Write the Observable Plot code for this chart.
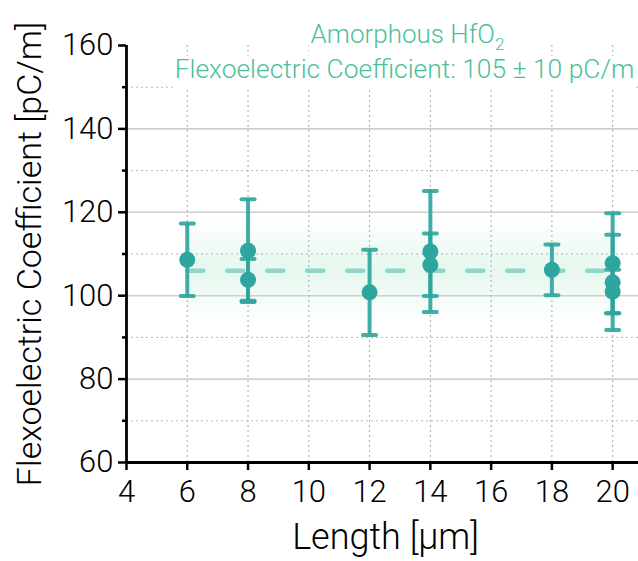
<!DOCTYPE html>
<html>
<head>
<meta charset="utf-8">
<script src="https://cdn.jsdelivr.net/npm/d3@7"></script>
<script src="https://cdn.jsdelivr.net/npm/@observablehq/plot@0.6"></script>
<style>
  html, body { margin: 0; padding: 0; background: #fff; }
  #chart { width: 638px; height: 561px; }
  #chart svg { overflow: visible; }
</style>
</head>
<body>
<div id="chart"></div>
<script>
// ---- data ----
const lengths = [6, 8, 8, 12, 14, 14, 18, 20, 20, 20];
const coeffs  = [108.6, 110.8, 103.8, 100.8, 110.6, 107.4, 106.2, 107.8, 103.2, 101.0];
const errors  = [8.7, 12.3, 5.0, 10.2, 14.5, 7.5, 6.1, 12.0, 11.4, 5.2];

const meanValue = 106;
const meanRangeX = [6, 20];
const bandLow = 94, bandHigh = 118;

const xTicks = [4, 6, 8, 10, 12, 14, 16, 18, 20];
const yMajor = [60, 80, 100, 120, 140, 160];
const yMinor = [70, 90, 110, 130, 150];

const titleLine1 = "Amorphous HfO2";
const titleLine2 = "Flexoelectric Coefficient: 105 \u00b1 10 pC/m";
const xLabel = "Length [\u03bcm]";
const yLabel = "Flexoelectric Coefficient [pC/m]";

// ---- build ----
const points = lengths.map((x, i) => ({x, y: coeffs[i], lo: coeffs[i] - errors[i], hi: coeffs[i] + errors[i]}));
const meanLine = meanRangeX.map(x => ({x, y: meanValue}));
const band = [{x1: meanRangeX[0], x2: meanRangeX[1], y1: bandLow, y2: bandHigh}];

const teal = "#2ea59f";
const green = "#4cbf98";
const font = "Roboto, 'Liberation Sans', sans-serif";

const capSymbol = {
  draw(ctx) { ctx.moveTo(-6.5, 0); ctx.lineTo(6.5, 0); }
};

const chart = Plot.plot({
  width: 638,
  height: 561,
  marginLeft: 126,
  marginRight: 0,
  marginTop: 45,
  marginBottom: 99,
  x: {domain: [4, 20.85]},
  y: {domain: [60, 160]},
  style: {fontFamily: font, background: "#fff", color: "#000", overflow: "visible"},
  marks: [
    Plot.rect(band, {x1: "x1", x2: "x2", y1: "y1", y2: "y2", fill: "url(#bandGrad)"}),
    Plot.gridY(yMinor, {stroke: "#b5b5b5", strokeOpacity: 1, strokeWidth: 1, strokeDasharray: "2,3"}),
    Plot.gridY(yMajor.filter(v => v !== 60 && v !== 160), {stroke: "#cfcfcf", strokeOpacity: 1, strokeWidth: 1.6}),
    Plot.gridX(xTicks.filter(v => v !== 4), {stroke: "#a8a8a8", strokeOpacity: 1, strokeWidth: 1, strokeDasharray: "2,3"}),
    Plot.line(meanLine, {x: "x", y: "y", stroke: "#7fcfc4", strokeOpacity: 0.85, strokeWidth: 4.5, strokeDasharray: "16,24", strokeLinecap: "round"}),
    Plot.ruleX(points, {x: "x", y1: "lo", y2: "hi", stroke: teal, strokeOpacity: 0.9, strokeWidth: 4}),
    Plot.dot(points, {x: "x", y: "hi", symbol: capSymbol, r: 6, stroke: teal, strokeOpacity: 0.9, strokeWidth: 4, strokeLinecap: "round"}),
    Plot.dot(points, {x: "x", y: "lo", symbol: capSymbol, r: 6, stroke: teal, strokeOpacity: 0.9, strokeWidth: 4, strokeLinecap: "round"}),
    Plot.dot(points, {x: "x", y: "y", r: 8, fill: teal, stroke: "none"}),
    // axes
    Plot.axisY(yMinor, {tickSize: 4, tickFormat: () => "", stroke: "#000", strokeWidth: 2.5}),
    Plot.axisY(yMajor, {tickSize: 8, tickPadding: 5, fontSize: 31, fontWeight: 300, stroke: "#000", strokeWidth: 2.5, label: null}),
    Plot.axisX(xTicks, {tickSize: 8, tickPadding: 9, fontSize: 31, fontWeight: 300, stroke: "#000", strokeWidth: 2.5, label: null}),
    Plot.ruleX([4], {stroke: "#000", strokeWidth: 2.8}),
    Plot.ruleY([60], {stroke: "#000", strokeWidth: 2.8}),
    // axis titles
    Plot.text([yLabel], {frameAnchor: "left", rotate: -90, dx: -96, fontSize: 34, fontWeight: 300, fill: "#000", textAnchor: "middle", lineAnchor: "middle"}),
    Plot.text([xLabel], {frameAnchor: "bottom", dy: 75, dx: 3, fontSize: 36, fontWeight: 300, fill: "#000", textAnchor: "middle", lineAnchor: "middle"}),
    // annotation
    Plot.text([titleLine1], {frameAnchor: "top", dx: 25, dy: -11, fontSize: 26, fontWeight: 300, fill: green, lineAnchor: "middle", className: "anno"}),
    Plot.text([titleLine2], {frameAnchor: "top", dx: 22, dy: 24, fontSize: 26.4, fontWeight: 300, fill: green, lineAnchor: "middle", className: "anno"})
  ]
});

// gradient for the band
const ns = "http://www.w3.org/2000/svg";
const defs = document.createElementNS(ns, "defs");
defs.innerHTML = `<linearGradient id="bandGrad" x1="0" y1="0" x2="0" y2="1">
  <stop offset="0%" stop-color="#c8eed9" stop-opacity="0"/>
  <stop offset="30%" stop-color="#c8eed9" stop-opacity="0.3"/>
  <stop offset="50%" stop-color="#c8eed9" stop-opacity="0.45"/>
  <stop offset="70%" stop-color="#c8eed9" stop-opacity="0.3"/>
  <stop offset="100%" stop-color="#c8eed9" stop-opacity="0"/>
</linearGradient>`;
chart.insertBefore(defs, chart.firstChild);
document.getElementById("chart").appendChild(chart);

// subscript in HfO2 and white boxes behind the annotation lines
const annoTexts = Array.from(chart.querySelectorAll("g.anno text"))
  .filter(t => t.textContent === titleLine1 || t.textContent === titleLine2);
annoTexts.forEach(t => {
  if (t.textContent === titleLine1) {
    t.textContent = "";
    t.appendChild(document.createTextNode("Amorphous HfO"));
    const sub = document.createElementNS(ns, "tspan");
    sub.setAttribute("dy", "7");
    sub.setAttribute("font-size", "17");
    sub.textContent = "2";
    t.appendChild(sub);
  }
  const b = t.getBBox();
  const r = document.createElementNS(ns, "rect");
  r.setAttribute("x", b.x - 2);
  r.setAttribute("y", b.y + 2);
  r.setAttribute("width", b.width + 4);
  r.setAttribute("height", b.height + 2);
  r.setAttribute("fill", "#fff");
  const tr = t.getAttribute("transform");
  if (tr) r.setAttribute("transform", tr);
  t.parentNode.insertBefore(r, t);
});
</script>
</body>
</html>
